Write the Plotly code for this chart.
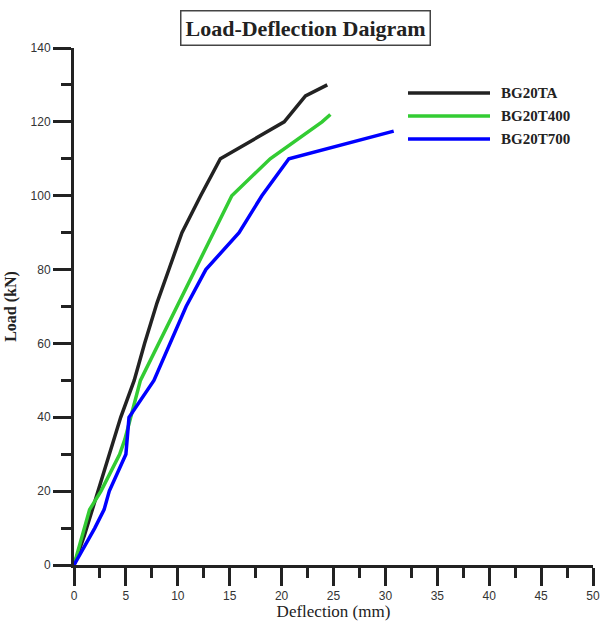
import plotly.graph_objects as go

# Data
ta_x = [0, 1.0, 4.5, 5.8, 6.8, 8.0, 9.2, 10.4, 12.2, 14.1, 20.25, 22.3, 24.4]
ta_y = [0, 8, 40, 50, 60, 71, 80.5, 90, 100, 110, 120, 127, 130]

t400_x = [0, 1.5, 2.6, 4.4, 4.9, 6.4, 15.2, 18.9, 23.9, 24.7]
t400_y = [0, 15, 20, 30, 34, 50, 100, 110, 120, 122]

t700_x = [0, 2.0, 2.9, 3.4, 5.0, 5.3, 7.7, 10.8, 12.7, 15.9, 18.1, 20.7, 30.8]
t700_y = [0, 10, 15, 20, 30, 40, 50, 70, 80, 90, 100, 110, 117.5]

names = ["BG20TA", "BG20T400", "BG20T700"]
colors = ["#222222", "#33cc33", "#0000ff"]

x_ticks = [0, 5, 10, 15, 20, 25, 30, 35, 40, 45, 50]
y_ticks = [0, 20, 40, 60, 80, 100, 120, 140]

# pixel geometry of the plot area
L, R, T, B = 74, 8, 48, 56
W, H = 601, 621
pw = W - L - R
ph = H - T - B


def px(xp):
    return (xp - L) / pw


def py(yp):
    return (H - B - yp) / ph


fig = go.Figure()
for xs, ys, nm, c in zip([ta_x, t400_x, t700_x], [ta_y, t400_y, t700_y], names, colors):
    fig.add_trace(go.Scatter(x=xs, y=ys, mode="lines", name=nm, showlegend=False,
                             line=dict(color=c, width=3.5)))

axis_common = dict(
    showline=True, linewidth=3, linecolor="#222222",
    ticks="outside", ticklen=18, tickwidth=3, tickcolor="#222222",
    showgrid=False, zeroline=False, automargin=False,
    ticklabeloverflow="allow",
    tickfont=dict(family="Liberation Sans, Arial", size=12, color="#333333"),
)

fig.update_xaxes(range=[0, 50], tickvals=x_ticks, ticktext=[str(v) for v in x_ticks],
                 minor=dict(dtick=2.5, ticks="outside", ticklen=10, tickwidth=3,
                            tickcolor="#222222", showgrid=False),
                 title=dict(text="Deflection (mm)", standoff=8,
                            font=dict(family="Liberation Serif, Times New Roman", size=17, color="#222222")),
                 **axis_common)
fig.update_yaxes(range=[0, 140], tickvals=y_ticks, ticktext=[str(v) for v in y_ticks],
                 minor=dict(dtick=10, ticks="outside", ticklen=10, tickwidth=3,
                            tickcolor="#222222", showgrid=False),
                 title=dict(text="<b>Load (kN)</b>", standoff=10,
                            font=dict(family="Liberation Serif, Times New Roman", size=16, color="#222222")),
                 **axis_common)

# manual legend (long line samples like the reference)
shapes = []
annotations = []
legend_rows = [93, 116, 139]
for nm, c, yrow in zip(names, colors, legend_rows):
    shapes.append(dict(type="line", xref="paper", yref="paper",
                       x0=px(408), x1=px(490), y0=py(yrow), y1=py(yrow),
                       line=dict(color=c, width=3.5)))
    annotations.append(dict(text="<b>" + nm + "</b>", xref="paper", yref="paper",
                            x=px(499), y=py(yrow), xanchor="left", yanchor="middle",
                            showarrow=False,
                            font=dict(family="Liberation Serif, Times New Roman", size=15, color="#222222")))

annotations.append(dict(text="<b>Load-Deflection Daigram</b>", xref="paper", yref="paper",
                        x=px(305), y=py(28.5), xanchor="center", yanchor="middle",
                        showarrow=False,
                        font=dict(family="Liberation Serif, Times New Roman", size=22, color="#222222"),
                        bordercolor="#444444", borderwidth=1.5, borderpad=4,
                        bgcolor="white"))

fig.update_layout(
    template="none",
    width=W, height=H,
    margin=dict(l=L, r=R, t=T, b=B),
    paper_bgcolor="white", plot_bgcolor="white",
    showlegend=False,
    shapes=shapes,
    annotations=annotations,
)

fig.write_html("out.html")
